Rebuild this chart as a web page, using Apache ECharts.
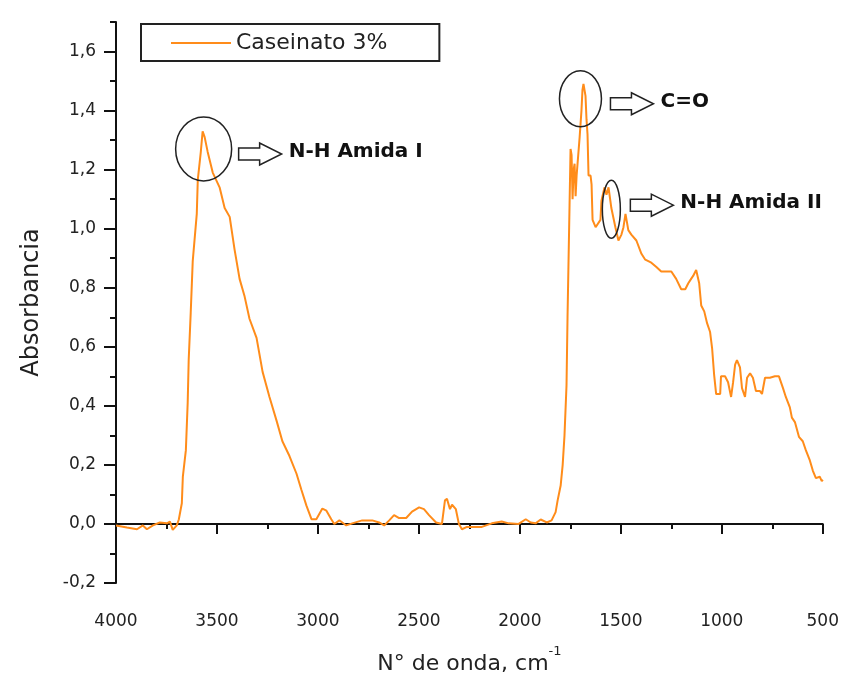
<!DOCTYPE html>
<html>
<head>
<meta charset="utf-8">
<script src="https://cdn.jsdelivr.net/npm/echarts@6/dist/echarts.min.js"></script>
<style>
  html, body { margin: 0; padding: 0; background: #fff; }
  #chart { width: 842px; height: 680px; }
</style>
</head>
<body>
<div id="chart"></div>
<script>
/* espectro FTIR - caseinato 3% */
var seriesName = 'Caseinato 3%';
var yTicks = [-0.2, 0, 0.2, 0.4, 0.6, 0.8, 1.0, 1.2, 1.4, 1.6];

var wavenumber = [
  4000, 3946, 3896, 3867, 3847, 3817, 3783, 3748, 3733, 3719, 3699, 3689, 3674, 3669, 3654, 3645,
  3640, 3630, 3620, 3600, 3595, 3580, 3571, 3561, 3546, 3521, 3487, 3462, 3437, 3413, 3388, 3363,
  3339, 3304, 3274, 3240, 3205, 3176, 3141, 3106, 3082, 3057, 3032, 3008, 2978, 2958, 2934, 2919,
  2894, 2879, 2860, 2830, 2781, 2731, 2697, 2672, 2647, 2623, 2598, 2563, 2534, 2499, 2475, 2450,
  2415, 2386, 2371, 2361, 2346, 2336, 2317, 2302, 2287, 2262, 2188, 2164, 2139, 2090, 2055, 2006,
  1971, 1946, 1922, 1897, 1867, 1843, 1823, 1813, 1798, 1788, 1779, 1769, 1764, 1754, 1749, 1744,
  1739, 1734, 1729, 1724, 1719, 1704, 1695, 1690, 1685, 1675, 1670, 1665, 1660, 1650, 1645, 1640,
  1625, 1616, 1601, 1596, 1581, 1571, 1561, 1547, 1527, 1512, 1497, 1487, 1477, 1463, 1448, 1423,
  1398, 1379, 1349, 1324, 1300, 1250, 1226, 1201, 1181, 1166, 1152, 1142, 1127, 1112, 1102, 1087,
  1073, 1058, 1048, 1038, 1028, 1008, 1004, 984, 969, 954, 944, 934, 925, 910, 900, 885,
  875, 860, 846, 831, 811, 801, 786, 762, 737, 717, 697, 683, 663, 653, 638, 618,
  599, 584, 564, 549, 534, 515, 505, 500
];
var absorbance = [
  -0.005, -0.012, -0.018, -0.005, -0.018, -0.005, 0.005, 0.002, 0.008, -0.02, -0.005, 0.015, 0.07, 0.16, 0.25, 0.41,
  0.555, 0.715, 0.89, 1.05, 1.165, 1.26, 1.33, 1.31, 1.26, 1.19, 1.14, 1.07, 1.04, 0.93, 0.83, 0.77,
  0.695, 0.63, 0.515, 0.43, 0.35, 0.28, 0.23, 0.17, 0.116, 0.062, 0.016, 0.016, 0.052, 0.045, 0.016, 0.0,
  0.012, 0.005, -0.005, 0.002, 0.012, 0.012, 0.005, -0.005, 0.012, 0.03, 0.02, 0.02, 0.042, 0.056, 0.05, 0.03,
  0.005, 0.0, 0.08, 0.085, 0.05, 0.065, 0.05, 0.0, -0.018, -0.01, -0.01, -0.004, 0.002, 0.008, 0.002, 0.0,
  0.016, 0.005, 0.002, 0.015, 0.005, 0.012, 0.04, 0.08, 0.13, 0.2, 0.3, 0.47, 0.7, 1.08, 1.27, 1.25,
  1.1, 1.2, 1.22, 1.11, 1.18, 1.31, 1.4, 1.47, 1.49, 1.45, 1.37, 1.32, 1.18, 1.18, 1.15, 1.03,
  1.005, 1.005, 1.03, 1.095, 1.14, 1.115, 1.14, 1.07, 1.005, 0.96, 0.98, 1.005, 1.05, 0.995, 0.98, 0.96,
  0.915, 0.895, 0.885, 0.87, 0.855, 0.855, 0.83, 0.795, 0.795, 0.815, 0.83, 0.84, 0.86, 0.815, 0.74, 0.72,
  0.68, 0.65, 0.595, 0.505, 0.44, 0.44, 0.5, 0.5, 0.48, 0.43, 0.48, 0.54, 0.555, 0.53, 0.46, 0.43,
  0.495, 0.51, 0.495, 0.45, 0.45, 0.44, 0.495, 0.495, 0.5, 0.5, 0.46, 0.43, 0.395, 0.36, 0.345, 0.295,
  0.28, 0.25, 0.215, 0.18, 0.155, 0.16, 0.145, 0.15
];

// anotações: centro da elipse em coordenadas do gráfico
var noteLabels = ['N-H Amida I', 'C=O', 'N-H Amida II'];
var noteAt = [[3566, 1.27], [1700, 1.44], [1547, 1.066]];

var chart = echarts.init(document.getElementById('chart'));

var labelFont = { fontFamily: 'DejaVu Sans', fontSize: 17, color: '#222' };

var option = {
    animation: false,
    backgroundColor: '#fff',
    grid: { left: 116, right: 18, top: 22, bottom: 88 },
    legend: {
        left: 141,
        top: 24,
        data: [{ name: seriesName, icon: 'rect' }],
        itemWidth: 60,
        itemHeight: 2,
        borderColor: '#222',
        borderWidth: 2,
        borderRadius: 0,
        padding: [7, 52, 6, 30],
        textStyle: { fontFamily: 'DejaVu Sans', fontSize: 22, color: '#222', lineHeight: 24 }
    },
    xAxis: {
        type: 'value',
        min: 500,
        max: 4000,
        interval: 500,
        inverse: true,
        name: '{a|N° de onda, cm}{s|-1}',
        nameLocation: 'middle',
        nameGap: 62,
        nameTextStyle: {
            rich: {
                a: { fontFamily: 'DejaVu Sans', fontSize: 22, color: '#222', lineHeight: 30, verticalAlign: 'bottom' },
                s: { fontFamily: 'DejaVu Sans', fontSize: 13, color: '#222', lineHeight: 30, verticalAlign: 'top' }
            }
        },
        axisLine: { lineStyle: { color: '#111', width: 2 } },
        axisTick: { length: 10, lineStyle: { color: '#111', width: 2 } },
        minorTick: { show: true, splitNumber: 2, length: 5, lineStyle: { color: '#111', width: 2 } },
        axisLabel: Object.assign({
            margin: 30,
            formatter: function (v) { return String(v); }
        }, labelFont),
        splitLine: { show: false }
    },
    yAxis: [{
        type: 'value',
        min: -0.2,
        max: 1.7,
        interval: 0.2,
        name: 'Absorbancia',
        nameLocation: 'middle',
        nameGap: 72,
        nameTextStyle: { fontFamily: 'DejaVu Sans', fontSize: 24, color: '#222' },
        axisLine: { show: true, lineStyle: { color: '#111', width: 2 } },
        axisTick: { show: true, length: 12, customValues: yTicks, lineStyle: { color: '#111', width: 2 } },
        axisLabel: Object.assign({
            margin: 20,
            customValues: yTicks,
            formatter: function (v) {
                if (v > 1.65) return '';
                return v.toFixed(1).replace('.', ',');
            }
        }, labelFont),
        splitLine: { show: false }
    }, {
        type: 'value',
        position: 'left',
        min: -0.2,
        max: 1.7,
        interval: 0.1,
        axisLine: { show: false },
        axisTick: { show: true, length: 6, lineStyle: { color: '#111', width: 2 } },
        axisLabel: { show: false },
        splitLine: { show: false }
    }],
    series: [{
        name: seriesName,
        type: 'line',
        yAxisIndex: 0,
        showSymbol: false,
        symbol: 'none',
        itemStyle: { color: '#ff8c1a' },
        lineStyle: { color: '#ff8c1a', width: 2 },
        data: wavenumber.map(function (w, i) { return [w, absorbance[i]]; })
    }]
};
chart.setOption(option);

// elipses e setas das anotações
var ellipseSize = [[28, 32], [21, 28], [9, 29]];
var arrowOffset = [[35, 5], [30, 5], [19, -4]];
var graphics = [];
noteAt.forEach(function (p, i) {
    var c = chart.convertToPixel({ gridIndex: 0 }, p);
    var rx = ellipseSize[i][0], ry = ellipseSize[i][1];
    graphics.push({
        type: 'ellipse',
        shape: { cx: c[0], cy: c[1], rx: rx, ry: ry },
        style: { fill: 'none', stroke: '#222', lineWidth: 1.5 },
        z: 10
    });
    var ax = c[0] + arrowOffset[i][0], ay = c[1] + arrowOffset[i][1];
    var ls = 21, L = 43;
    graphics.push({
        type: 'polygon',
        shape: { points: [[ax, ay - 6], [ax + ls, ay - 6], [ax + ls, ay - 11], [ax + L, ay], [ax + ls, ay + 11], [ax + ls, ay + 6], [ax, ay + 6]] },
        style: { fill: '#fff', stroke: '#222', lineWidth: 1.5 },
        z: 10
    });
    graphics.push({
        type: 'text',
        x: ax + L + 7,
        y: ay - 2,
        style: {
            text: noteLabels[i],
            fontFamily: 'DejaVu Sans',
            fontWeight: 'bold',
            fontSize: 20,
            fill: '#111',
            verticalAlign: 'middle'
        },
        z: 10
    });
});
chart.setOption({ graphic: graphics });
</script>
</body>
</html>
